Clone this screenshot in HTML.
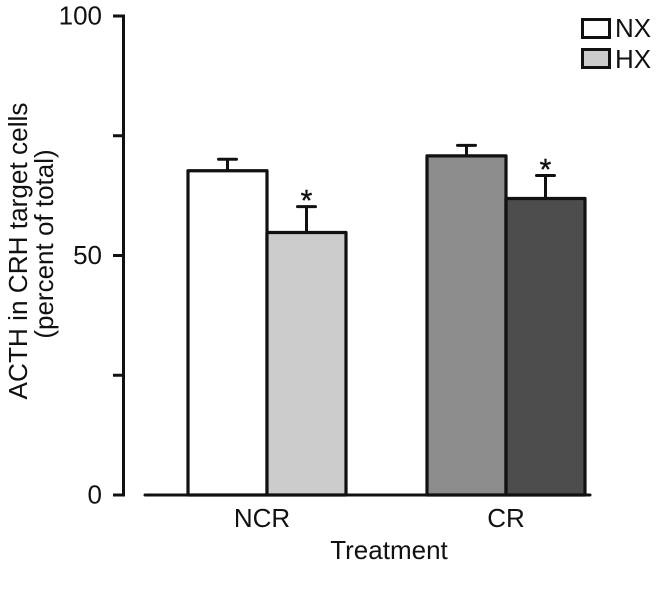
<!DOCTYPE html>
<html>
<head>
<meta charset="utf-8">
<style>
html,body{margin:0;padding:0;background:#fff;width:661px;height:593px;overflow:hidden}
svg{display:block}
text{font-family:"Liberation Sans",Arial,sans-serif;font-size:26px;fill:#111}
</style>
</head>
<body>
<svg id="chart" width="661" height="593" viewBox="0 0 661 593" xmlns="http://www.w3.org/2000/svg">
<g id="layer"></g>
<text x="389" y="559" text-anchor="middle">Treatment</text>
<text transform="translate(27,251) rotate(-90)" text-anchor="middle" style="font-size:26.2px">ACTH in CRH target cells</text>
<text transform="translate(53,244) rotate(-90)" text-anchor="middle">(percent of total)</text>
<rect x="582.5" y="19.5" width="27" height="18" fill="#ffffff" stroke="#111" stroke-width="3"/>
<text x="615" y="37">NX</text>
<rect x="582.5" y="49.5" width="27" height="18" fill="#cccccc" stroke="#111" stroke-width="3"/>
<text x="615" y="68">HX</text>
</svg>
<script>
const categories = ['NCR', 'CR'];
const seriesNames = ['NX', 'HX'];
const meanNX = [67.7, 70.8];
const meanHX = [54.8, 61.9];
const errorNX = [2.4, 2.2];
const errorHX = [5.4, 4.8];
const significantNX = [false, false];
const significantHX = [true, true];
const barFills = [['#ffffff', '#cccccc'], ['#8c8c8c', '#4d4d4d']];
const yTickValues = [0, 25, 50, 75, 100];
const yTickLabels = ['0', '', '50', '', '100'];

const NS = 'http://www.w3.org/2000/svg';
const INK = '#111';
const layer = document.getElementById('layer');
const yScale = v => 495 - v * 4.79;
const groupStart = i => 188 + i * 239;
const BAR_W = 79;

function make(tag, attrs, text) {
  const el = document.createElementNS(NS, tag);
  for (const k in attrs) el.setAttribute(k, attrs[k]);
  if (text !== undefined) el.textContent = text;
  layer.appendChild(el);
  return el;
}

categories.forEach((cat, i) => {
  [meanNX, meanHX].forEach((series, s) => {
    const errs = s === 0 ? errorNX : errorHX;
    const sig = s === 0 ? significantNX : significantHX;
    const x = groupStart(i) + s * BAR_W;
    const top = yScale(series[i]);
    const errTop = yScale(series[i] + errs[i]);
    const cx = x + BAR_W / 2;
    const stem = make('line', {x1: cx, x2: cx, y1: top, y2: errTop, stroke: INK, 'stroke-width': 3});
    
    
    const cap = make('line', {x1: cx - 9, x2: cx + 9, y1: errTop, y2: errTop, stroke: INK, 'stroke-width': 3, 'stroke-linecap': 'round'});
    
    
    const bar = make('rect', {x: x, y: top, width: BAR_W, height: yScale(0) - top, fill: barFills[i][s], stroke: INK, 'stroke-width': 3.2, 'stroke-linejoin': 'round'});
    
    
    if (sig[i]) {
      const star = make('text', {x: cx, y: errTop + 4, 'text-anchor': 'middle', style: 'font-size:30px;stroke:#111;stroke-width:0.4px'}, '*');
      
      
    }
  });
  const labelShift = i === 0 ? -5 : 0;
  const label = make('text', {x: groupStart(i) + BAR_W + labelShift, y: 527, 'text-anchor': 'middle'}, cat);
  
  
});

const baseline = make('line', {x1: 145, x2: 590, y1: yScale(0), y2: yScale(0), stroke: INK, 'stroke-width': 3, 'stroke-linecap': 'round'});



const yAxis = make('line', {x1: 123.5, x2: 123.5, y1: yScale(100) - 1.5, y2: yScale(0) + 1.5, stroke: INK, 'stroke-width': 3});



yTickValues.forEach((v, i) => {
  const tick = make('line', {x1: 113, x2: 123, y1: yScale(v), y2: yScale(v), stroke: INK, 'stroke-width': 3});
  
  
  if (yTickLabels[i]) {
    const t = make('text', {x: 102, y: yScale(v) + 8.5, 'text-anchor': 'end'}, yTickLabels[i]);
    
    
  }
});
</script>
</body>
</html>
